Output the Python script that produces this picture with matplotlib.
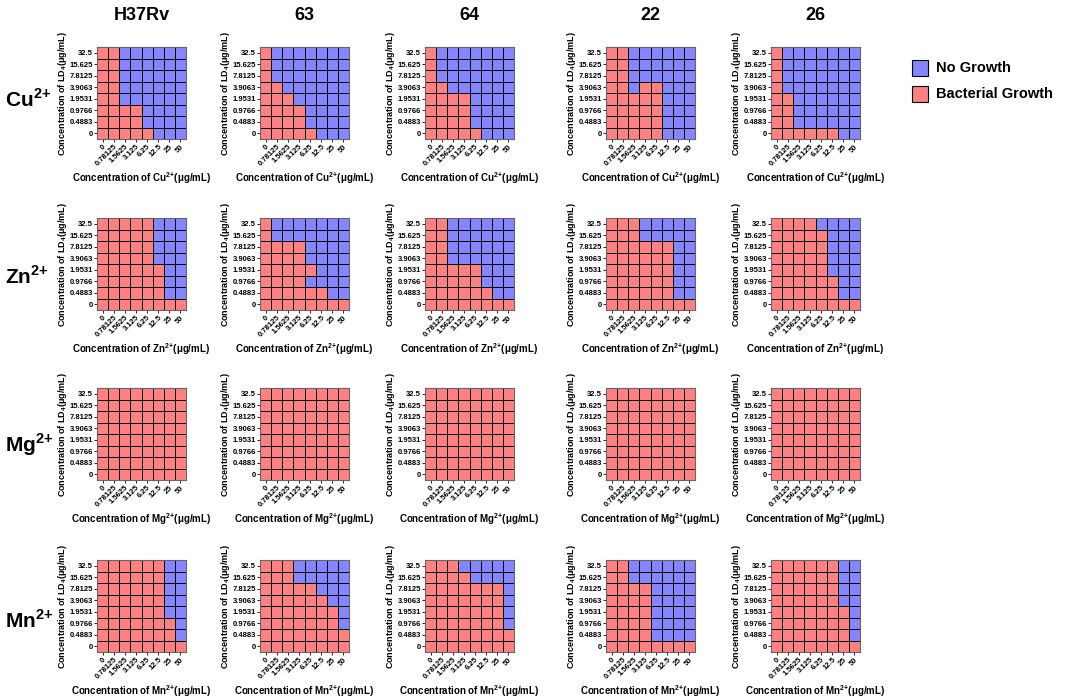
import numpy as np
import matplotlib
matplotlib.use("Agg")
import matplotlib.pyplot as plt
from matplotlib.colors import ListedColormap
from matplotlib.patches import Rectangle

plt.rcParams["font.family"] = ["Liberation Sans", "DejaVu Sans"]
plt.rcParams["mathtext.fontset"] = "custom"
plt.rcParams["mathtext.rm"] = "Liberation Sans"
plt.rcParams["mathtext.bf"] = "Liberation Sans:bold"

strains = ["H37Rv", "63", "64", "22", "26"]
metals = ["Cu", "Zn", "Mg", "Mn"]
metal_conc = ["0", "0.78125", "1.5625", "3.125", "6.25", "12.5", "25", "50"]
ld4_conc = ["32.5", "15.625", "7.8125", "3.9063", "1.9531", "0.9766", "0.4883", "0"]

# 1 = bacterial growth, 0 = no growth; rows from LD4 32.5 (top) down to 0
cu_growth = [
    ["11000000", "11000000", "11000000", "11000000", "11000000", "11110000", "11110000", "11111000"],
    ["10000000", "10000000", "10000000", "11000000", "11100000", "11110000", "11110000", "11111000"],
    ["10000000", "10000000", "10000000", "11000000", "11110000", "11110000", "11110000", "11111000"],
    ["11000000", "11000000", "11000000", "11011000", "11111000", "11111000", "11111000", "11111000"],
    ["10000000", "10000000", "10000000", "10000000", "11000000", "11000000", "11000000", "11111100"],
]
zn_growth = [
    ["11111000", "11111000", "11111000", "11111000", "11111100", "11111100", "11111100", "11111111"],
    ["10000000", "10000000", "11110000", "11110000", "11111000", "11110000", "11111100", "11111111"],
    ["11000000", "11000000", "11000000", "11000000", "11111000", "11111000", "11111100", "11111111"],
    ["11100000", "11100000", "11111100", "11111100", "11111100", "11111100", "11111100", "11111111"],
    ["11110000", "11111000", "11111000", "11111000", "11111000", "11111100", "11111100", "11111111"],
]
mg_growth = [
    ["11111111", "11111111", "11111111", "11111111", "11111111", "11111111", "11111111", "11111111"],
    ["11111111", "11111111", "11111111", "11111111", "11111111", "11111111", "11111111", "11111111"],
    ["11111111", "11111111", "11111111", "11111111", "11111111", "11111111", "11111111", "11111111"],
    ["11111111", "11111111", "11111111", "11111111", "11111111", "11111111", "11111111", "11111111"],
    ["11111111", "11111111", "11111111", "11111111", "11111111", "11111111", "11111111", "11111111"],
]
mn_growth = [
    ["11111100", "11111100", "11111100", "11111100", "11111100", "11111110", "11111110", "11111111"],
    ["11100000", "11100000", "11111000", "11111100", "11111110", "11111110", "11111111", "11111111"],
    ["11100000", "11110000", "11111110", "11111110", "11111110", "11111110", "11111111", "11111111"],
    ["11000000", "11000000", "11110000", "11110000", "11110000", "11110000", "11110000", "11111111"],
    ["11111100", "11111100", "11111100", "11111100", "11111110", "11111110", "11111110", "11111111"],
]

BLUE = "#8585ff"
RED = "#ff8080"
W, H = 1065, 698

col_left = [97, 260, 425, 606, 771]
row_top = [47, 218, 388, 560]
grid_w, grid_h = 89, 92
ion_label_y = [100, 277, 445, 620]


def ion(metal):
    # "{+}" keeps mathtext from treating + as a spaced binary operator
    return "\\mathbf{%s}^{\\mathbf{2{+}}}" % metal


def draw_panel(ax, rows, metal):
    arr = np.array([[int(c) for c in r] for r in rows])
    ax.pcolormesh(arr, cmap=ListedColormap([BLUE, RED]), vmin=0, vmax=1,
                  edgecolors="black", linewidth=0.7)
    ax.set_xlim(0, 8)
    ax.set_ylim(8, 0)
    ax.set_xticks(np.arange(8) + 0.5)
    ax.set_yticks(np.arange(8) + 0.5)
    ax.set_xticklabels(metal_conc, rotation=45, ha="right", rotation_mode="anchor",
                       fontsize=5.5, fontweight="bold")
    ax.set_yticklabels(ld4_conc, fontsize=5.5, fontweight="bold")
    ax.tick_params(length=2, width=0.6, pad=1)
    for s in ax.spines.values():
        s.set_color("#666")
        s.set_linewidth(0.8)
    ax.set_xlabel("Concentration of $%s$(μg/mL)" % ion(metal),
                  fontsize=7, fontweight="bold", labelpad=1.5)
    ax.set_ylabel("Concentration of $\\mathbf{LD}_{\\mathbf{4}}$(μg/mL)",
                  fontsize=6.5, fontweight="bold", labelpad=0)


fig = plt.figure(figsize=(W / 100, H / 100), dpi=100)

all_growth = [cu_growth, zn_growth, mg_growth, mn_growth]
for i, metal in enumerate(metals):
    for j, strain in enumerate(strains):
        rect = [col_left[j] / W, 1 - (row_top[i] + grid_h) / H, grid_w / W, grid_h / H]
        ax = fig.add_axes(rect)
        draw_panel(ax, all_growth[i][j], metal)
    fig.text(5 / W, 1 - ion_label_y[i] / H, "$%s$" % ion(metal),
             fontsize=15, fontweight="bold", ha="left", va="center")

for j, strain in enumerate(strains):
    fig.text((col_left[j] + grid_w / 2) / W, 1 - 15 / H, strain,
             fontsize=13, fontweight="bold", ha="center", va="center")

# legend
for k, (label, color) in enumerate([("No Growth", BLUE), ("Bacterial Growth", RED)]):
    yc = [68, 94][k]
    fig.patches.append(Rectangle((912 / W, 1 - (yc + 8) / H), 16 / W, 16 / H,
                                 transform=fig.transFigure, facecolor=color,
                                 edgecolor="black", linewidth=0.8))
    fig.text(936 / W, 1 - yc / H, label, fontsize=10.5, fontweight="bold",
             ha="left", va="center")

fig.savefig("out.png", dpi=100)
